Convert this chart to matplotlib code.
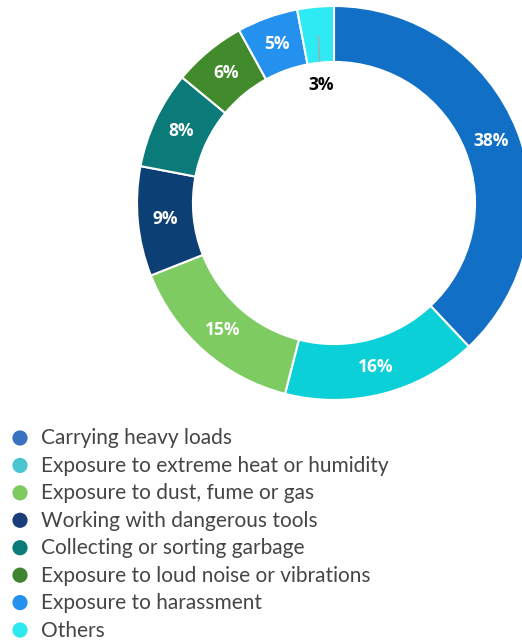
import matplotlib
matplotlib.use("Agg")
import matplotlib.pyplot as plt
import numpy as np

categories = ["Carrying heavy loads", "Exposure to extreme heat or humidity",
              "Exposure to dust, fume or gas", "Working with dangerous tools",
              "Collecting or sorting garbage", "Exposure to loud noise or vibrations",
              "Exposure to harassment", "Others"]
values = [38, 16, 15, 9, 8, 6, 5, 3]
colors = ["#1170C6", "#0BD0D8", "#7ECB62", "#0C3F74", "#0A7B79", "#418B2C", "#2491EE", "#2EEAF2"]
marker_colors = ["#3872C0", "#4BC6D0", "#7DCB5E", "#1A3E7A", "#0B7B7A", "#3F8430", "#2490F0", "#2EE8F0"]

W, H = 522, 640
fig = plt.figure(figsize=(W / 100, H / 100), dpi=100)
R = 197
cx, cy = 334, 203
ax = fig.add_axes([(cx - R) / W, (H - cy - R) / H, 2 * R / W, 2 * R / H])

width = 0.284
wedges, _ = ax.pie(values, colors=colors, startangle=90, counterclock=False, radius=1,
                   wedgeprops=dict(width=width, edgecolor="white", linewidth=1.5))
ax.set_xlim(-1, 1)
ax.set_ylim(-1, 1)
ax.set_aspect("equal")
ax.axis("off")

for w, v in zip(wedges, values):
    ang = np.deg2rad((w.theta1 + w.theta2) / 2)
    if v >= 5:
        r = 1 - width / 2
        ax.text(r * np.cos(ang), r * np.sin(ang), f"{v}%", ha="center", va="center",
                color="white", fontsize=12.5, fontweight="bold", family="Open Sans")
    else:
        ang2 = np.deg2rad((w.theta1 + w.theta2) / 2 + 0.8)
        ax.annotate(f"{v}%", xy=(0.853 * np.cos(ang), 0.853 * np.sin(ang)),
                    xytext=(0.60 * np.cos(ang2), 0.60 * np.sin(ang2)),
                    ha="center", va="center", color="black", fontsize=12.5,
                    fontweight="bold", family="Open Sans",
                    arrowprops=dict(arrowstyle="-", color="#aaaaaa", lw=1,
                                    shrinkA=9, shrinkB=0))

# legend drawn in a pixel-coordinate overlay
lax = fig.add_axes([0, 0, 1, 1])
lax.set_xlim(0, W)
lax.set_ylim(H, 0)
lax.axis("off")
row_y = 438 + 27.43 * np.arange(len(categories))
lax.scatter(np.full(len(categories), 20), row_y, s=120, c=marker_colors, linewidths=0)
for y, lab in zip(row_y, categories):
    lax.text(41, y + 0.5, lab, ha="left", va="center", fontsize=15, family="Lato",
             color="#454545")

fig.savefig("out.png", dpi=100)
